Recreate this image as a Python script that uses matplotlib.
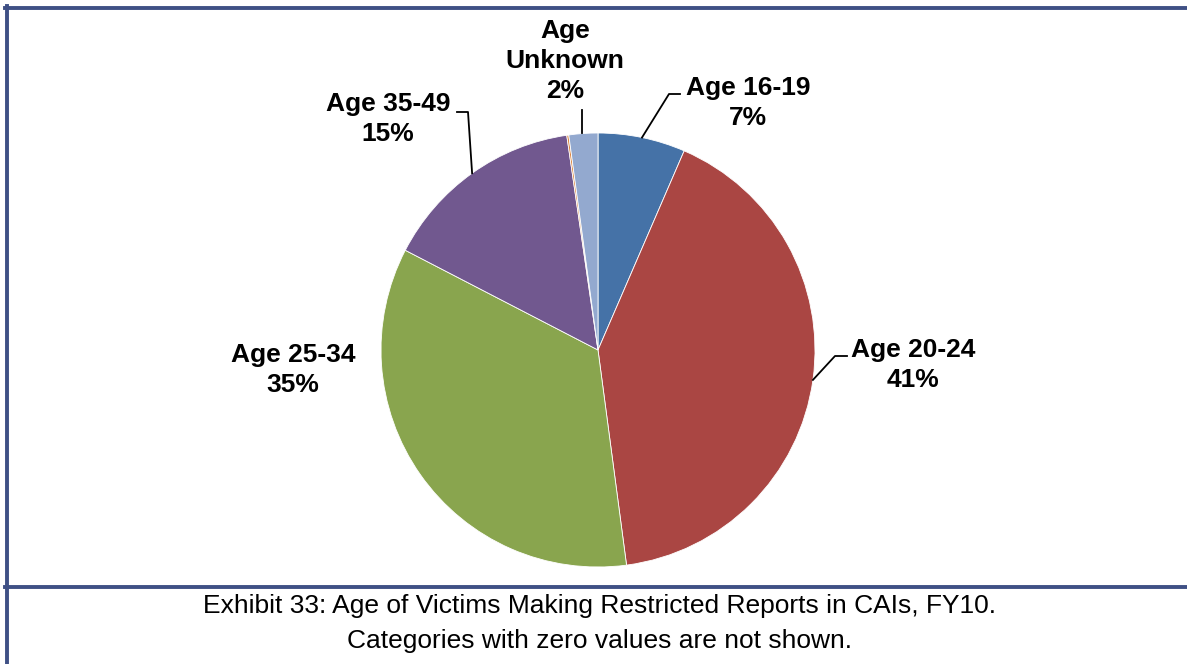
import numpy as np
import matplotlib
matplotlib.use('Agg')
import matplotlib.pyplot as plt
from matplotlib.lines import Line2D

labels = ['Age 16-19', 'Age 20-24', 'Age 25-34', 'Age 35-49', '', 'Age\nUnknown']
values = [6.5, 41.4, 34.7, 15.1, 0.15, 2.15]
shown_pct = ['7%', '41%', '35%', '15%', '', '2%']
colors = ['#4572A7', '#AA4643', '#89A54E', '#71588F', '#DB843D', '#93A9CF']

caption = ['Exhibit 33: Age of Victims Making Restricted Reports in CAIs, FY10.',
           'Categories with zero values are not shown.']

plt.rcParams['font.family'] = ['Liberation Sans', 'DejaVu Sans']

W, H = 1187, 664
fig = plt.figure(figsize=(W / 100, H / 100), dpi=100)

# pie centre / radius in pixels
cx, cy, R = 598, 350, 217
ax = fig.add_axes([(cx - R) / W, (H - cy - R) / H, 2 * R / W, 2 * R / H])
wedges, _ = ax.pie(values, colors=colors, startangle=90, counterclock=False,
                   radius=1, wedgeprops=dict(linewidth=0.6, edgecolor='white'))
ax.set_xlim(-1, 1)
ax.set_ylim(-1, 1)
ax.set_aspect('equal')
ax.axis('off')


def px(x, y):
    # pixel coords (top-left origin) -> pie data coords
    return (x - cx) / R, (cy - y) / R


# label centre positions and leader bends (pixel coords)
label_pos = {0: (748, 103), 1: (913, 365), 2: (293, 370), 3: (388, 119), 5: (565, 61)}
leader = {0: [(669, 94), (680, 94)],
          1: [(835, 356), (847, 356)],
          3: [(468, 112), (457, 112)],
          5: [(582, 110)]}

for i, w in enumerate(wedges):
    if i not in label_pos:
        continue
    mid = np.deg2rad((w.theta1 + w.theta2) / 2)
    tx, ty = px(*label_pos[i])
    ax.text(tx, ty, labels[i] + '\n' + shown_pct[i], ha='center', va='center',
            fontsize=19, fontweight='bold', linespacing=1.29, clip_on=False)
    if i in leader:
        sx, sy = np.cos(mid), np.sin(mid)
        pts = [(sx, sy)] + [px(*p) for p in leader[i]]
        if i == 5:
            pts = [(pts[1][0], sy)] + pts[1:]
        xs, ys = zip(*pts)
        ax.plot(xs, ys, color='black', lw=1.3, clip_on=False)

# frame lines
fc = '#3F5085'
fig.add_artist(Line2D([6.5 / W, 6.5 / W], [0, 1 - 6 / H], transform=fig.transFigure, color=fc, lw=2.8))
fig.add_artist(Line2D([5 / W, 1], [1 - 7.5 / H, 1 - 7.5 / H], transform=fig.transFigure, color=fc, lw=2.8))
fig.add_artist(Line2D([5 / W, 1], [1 - 587 / H, 1 - 587 / H], transform=fig.transFigure, color=fc, lw=2.8))

fig.text(600 / W, 1 - 606 / H, caption[0], ha='center', va='center', fontsize=19)
fig.text(600 / W, 1 - 641 / H, caption[1], ha='center', va='center', fontsize=19)

fig.savefig('out.png', dpi=100, facecolor='white')
